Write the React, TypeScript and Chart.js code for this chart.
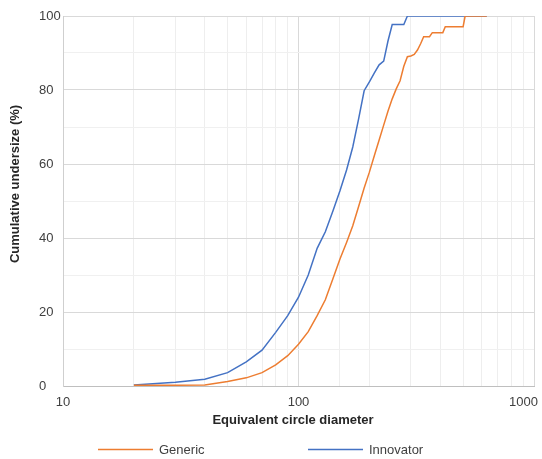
import { useEffect, useRef } from 'react';
import { Chart, registerables } from 'chart.js';

Chart.register(...registerables);

const diameters = [
  20, 30, 40, 50, 60, 70, 80, 90, 100, 110,
  120, 130, 140, 150, 160, 170, 180, 190, 200, 210,
  220, 230, 240, 250, 260, 270, 280, 290, 300, 310,
  320, 330, 340, 350, 360, 370, 380, 390, 400, 410,
  420, 430, 440, 450, 460, 470, 480, 490, 500, 510,
  520, 530, 540, 550, 560, 570, 580, 590, 600, 610,
  620, 630,
];

const generic = [
  0.2, 0.2, 0.3, 1.2, 2.2, 3.6, 5.7, 8.2, 11.3, 14.7,
  19, 23.3, 29, 34.3, 38.8, 43.3, 48.5, 53.5, 57.8, 62.3,
  66.5, 70.5, 74.3, 77.6, 80.3, 82.5, 86.4, 89, 89.2, 89.6,
  90.8, 92.5, 94.4, 94.4, 94.4, 95.5, 95.5, 95.5, 95.5, 95.5,
  97.1, 97.1, 97.1, 97.1, 97.1, 97.1, 97.1, 97.1, 97.1, 100,
  100, 100, 100, 100, 100, 100, 100, 100, 100, 100,
  100, 100,
];

const innovator = [
  0.3, 1.0, 1.8, 3.6, 6.5, 9.7, 14.5, 19, 24, 30,
  37.2, 41.7, 47.3, 52.8, 58.4, 64.6, 72.2, 79.8, 82.2, 84.6,
  86.8, 87.8, 93.3, 97.7, 97.7, 97.7, 97.7, 100, 100, 100,
  100, 100, 100, 100, 100, 100, 100, 100, 100, 100,
  100, 100, 100, 100, 100, 100, 100, 100, 100, 100,
  100, 100, 100, 100, 100, 100, 100, 100, 100, 100,
  100, 100,
];

const seriesNames = ['Generic', 'Innovator'];
const seriesColors = ['#ED7D31', '#4472C4'];
const xTickLabels = [10, 100, 1000];
const yTickLabels = [0, 20, 40, 60, 80, 100];
const xTitle = 'Equivalent circle diameter';
const yTitle = 'Cumulative undersize (%)';

const W = 542;
const H = 459;
const FONT = '"Liberation Sans", Arial, Helvetica, sans-serif';
const TEXT = '#404040';

const textPlugin = {
  id: 'textPlugin',
  afterDraw(chart: any) {
    const ctx = chart.ctx as CanvasRenderingContext2D;
    const xs = chart.scales.x;
    const ys = chart.scales.y;
    ctx.save();
    ctx.fillStyle = TEXT;
    ctx.font = `13px ${FONT}`;
    ctx.textBaseline = 'middle';

    // y tick labels (left aligned)
    ctx.textAlign = 'left';
    for (const v of yTickLabels) {
      ctx.fillText(String(v), 39, ys.getPixelForValue(v));
    }

    // x tick labels
    ctx.textAlign = 'center';
    for (const v of xTickLabels) {
      const t = String(v);
      const w = ctx.measureText(t).width;
      let px = xs.getPixelForValue(v);
      if (px + w / 2 > W - 4) px = W - 4 - w / 2;
      ctx.fillText(t, px, 402.5);
    }

    // titles
    ctx.font = `bold 13px ${FONT}`;
    ctx.fillStyle = '#262626';
    ctx.textAlign = 'center';
    ctx.fillText(xTitle, 293, 420);
    ctx.save();
    ctx.translate(15, 184);
    ctx.rotate(-Math.PI / 2);
    ctx.fillText(yTitle, 0, 0);
    ctx.restore();

    // legend
    ctx.font = `13px ${FONT}`;
    ctx.fillStyle = TEXT;
    ctx.textAlign = 'left';
    const legendX = [98, 308];
    seriesNames.forEach((name, i) => {
      const x0 = legendX[i];
      ctx.strokeStyle = seriesColors[i];
      ctx.lineWidth = 1.5;
      ctx.beginPath();
      ctx.moveTo(x0, 449.5);
      ctx.lineTo(x0 + 55, 449.5);
      ctx.stroke();
      ctx.fillText(name, x0 + 61, 450);
    });
    ctx.restore();
  },
};

export default function App() {
  const ref = useRef<HTMLCanvasElement | null>(null);

  useEffect(() => {
    if (!ref.current) return;
    const seriesData = [generic, innovator];
    const chart = new Chart(ref.current, {
      type: 'line',
      data: {
        datasets: seriesNames.map((name, i) => ({
          label: name,
          data: diameters.map((d, j) => ({ x: d, y: seriesData[i][j] })),
          borderColor: seriesColors[i],
          backgroundColor: seriesColors[i],
          borderWidth: 1.5,
          pointRadius: 0,
          tension: 0,
          fill: false,
        })),
      },
      options: {
        responsive: false,
        animation: false,
        events: [],
        layout: { padding: { top: 16, right: 8, bottom: 0, left: 0 } },
        plugins: {
          legend: { display: false },
          tooltip: { enabled: false },
          title: { display: false },
        },
        scales: {
          x: {
            type: 'logarithmic',
            min: 10,
            max: 1000,
            ticks: { display: false, autoSkip: false },
            grid: {
              drawTicks: false,
              lineWidth: 1,
              color: (c: any) => {
                const v = c.tick ? c.tick.value : 0;
                const l = Math.log10(v);
                return Math.abs(l - Math.round(l)) < 1e-9 ? '#d9d9d9' : '#eeeeee';
              },
            },
            border: { display: true, color: '#bfbfbf', width: 1 },
            afterFit: (s: any) => {
              s.height = 73;
              s.paddingLeft = 0;
              s.paddingRight = 0;
            },
          },
          y: {
            min: 0,
            max: 100,
            ticks: { display: false, stepSize: 10 },
            grid: {
              drawTicks: false,
              lineWidth: 1,
              color: (c: any) => {
                const v = c.tick ? c.tick.value : 0;
                return Math.round(v) % 20 === 0 ? '#d9d9d9' : '#f0f0f0';
              },
            },
            border: { display: true, color: '#cfcfcf', width: 1 },
            afterFit: (s: any) => {
              s.width = 63;
              s.paddingTop = 0;
              s.paddingBottom = 0;
            },
          },
        },
      } as any,
      plugins: [textPlugin],
    });
    return () => chart.destroy();
  }, []);

  return (
    <div style={{ position: 'absolute', left: 0, top: 0, width: W, height: H, background: '#fff' }}>
      <canvas ref={ref} width={W} height={H} style={{ display: 'block', width: W, height: H }} />
    </div>
  );
}
